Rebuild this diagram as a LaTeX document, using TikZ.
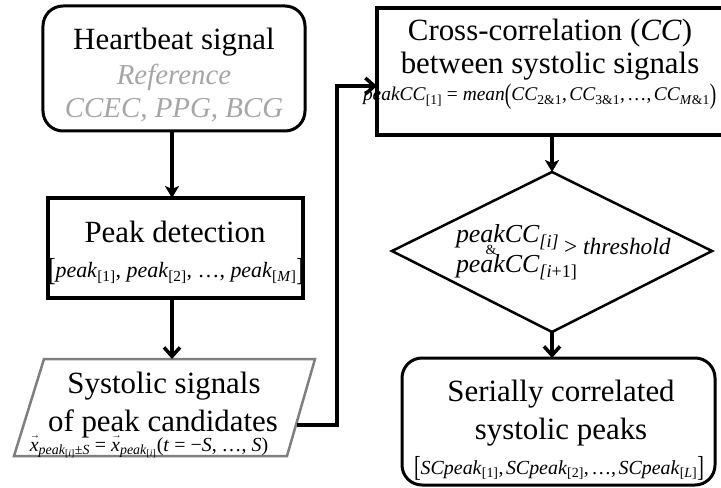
\documentclass[tikz,border=0pt]{standalone}
\usepackage{fontspec}
\usepackage{graphicx}
\setmainfont{Liberation Serif}
\usetikzlibrary{arrows.meta}
\definecolor{lgray}{HTML}{A6A6A6}
\definecolor{mgray}{HTML}{7F7F7F}
\newcommand\ix[1]{\textsubscript{[#1]}}
\newcommand\vx{\makebox[0pt][l]{\raisebox{0.62em}{\hspace{0.02em}\scalebox{0.5}{→}}}\textit{x}}
\newcommand\tallb[1]{\raisebox{-0.12em}{\scalebox{1}[1.45]{#1}}}
\newcommand\cs{,\hspace{0.12em}}
\begin{document}
\begin{tikzpicture}[x=1bp,y=-1bp,
  every node/.style={inner sep=0pt, outer sep=0pt},
  maintext/.style={font=\fontsize{31}{33}\selectfont, anchor=base},
  graytext/.style={font=\fontsize{29}{31}\selectfont\itshape, text=lgray, anchor=base},
  formtext/.style={font=\fontsize{22}{24}\selectfont, anchor=base},
  arr/.style={line width=3.5bp, -{Straight Barb[length=9bp,width=16bp,line width=3.5bp]}},
  farr/.style={line width=3.5bp, -{Stealth[length=12bp,width=14bp,inset=3bp]}},
  framebox/.style={draw, line width=3bp}]
\useasboundingbox (0,0) rectangle (721,488);

% Heartbeat signal
\node[framebox, rounded corners=20bp, minimum width=262bp, minimum height=125bp] (hb) at (174,68.5) {};
\node[maintext] (hb1) at (174,50) {Heartbeat signal};
\node[graytext] (hb2) at (174,85) {Reference};
\node[graytext] (hb3) at (174,118) {CCEC, PPG, BCG};

% Peak detection
\node[framebox, line width=3.5bp, minimum width=255bp, minimum height=100bp] (pd) at (175.5,248) {};
\node[maintext] (pd1) at (175,243) {Peak detection};
\node[formtext] (pd2) at (176,278) {\tallb{[}\textit{peak}\ix{1}, \textit{peak}\ix{2}, …, \textit{peak}\textsubscript{[\textit{M}]}\tallb{]}};

% Systolic signals (parallelogram)
\coordinate (pTL) at (44,359);
\coordinate (pTR) at (315,359);
\coordinate (pBR) at (287,456);
\coordinate (pBL) at (14,456);
\draw[mgray, line width=2.5bp, line join=miter] (pTL) -- (pTR) -- (pBR) -- (pBL) -- cycle;
\node[maintext] (ss1) at (164,393) {Systolic signals};
\node[maintext] (ss2) at (163,431) {of peak candidates};
\node[font=\fontsize{20}{22}\selectfont, anchor=base] (ss3) at (149,451) {\vx\textsubscript{\textit{peak}\textsubscript{[\textit{i}]}±\textit{S}} = \vx\textsubscript{\textit{peak}\textsubscript{[\textit{i}]}}(\textit{t} = −\textit{S}, …, \textit{S})};

% Cross-correlation
\node[framebox, line width=3.5bp, minimum width=353bp, minimum height=127bp] (cc) at (553.5,71.5) {};
\node[maintext] (cc1) at (550,41) {Cross-correlation (\textit{CC})};
\node[maintext] (cc2) at (550,74) {between systolic signals};
\node[font=\fontsize{19.5}{22}\selectfont, anchor=base west] (cc3) at (363,101) {\textit{peakCC}\ix{1} = \textit{mean}\tallb{(}\textit{CC}\textsubscript{2\&1}\cs\textit{CC}\textsubscript{3\&1}\cs…\cs\textit{CC}\textsubscript{\textit{M}\&1}\tallb{)}};

% Diamond
\coordinate (dT) at (552,172);
\coordinate (dR) at (712,251);
\coordinate (dB) at (552,332);
\coordinate (dL) at (392,251);
\draw[line width=2.5bp, line join=miter] (dT) -- (dR) -- (dB) -- (dL) -- cycle;
\node[font=\fontsize{26}{28}\selectfont\itshape, anchor=base west] (d1) at (456,243) {peakCC\ix{\textit{i}}};
\node[font=\fontsize{14}{15}\selectfont, anchor=base] (d2) at (491,255) {\&};
\node[font=\fontsize{26}{28}\selectfont\itshape, anchor=base west] (d3) at (456,273) {peakCC\textsubscript{[\textit{i}\upshape+1]}};
\node[font=\fontsize{23.5}{26}\selectfont, anchor=base west] (d4) at (564,255) {> \textit{threshold}};

% Final box
\node[framebox, rounded corners=20bp, minimum width=313bp, minimum height=127bp] (fb) at (558.5,421.5) {};
\node[maintext] (fb1) at (561,401) {Serially correlated};
\node[maintext] (fb2) at (561,439) {systolic peaks};
\node[font=\fontsize{20}{22}\selectfont, anchor=base] (fb3) at (559,474) {\tallb{[}\textit{SCpeak}\ix{1}\cs\textit{SCpeak}\ix{2}\cs…\cs\textit{SCpeak}\textsubscript{[\textit{L}]}\tallb{]}};

% Connectors
\coordinate (colx) at (172,0);
\coordinate (ssin) at (172,359);
\coordinate (ssout) at (297,425);
\coordinate (bend) at (337,86);
\draw[farr] (hb.south -| colx) -- (pd.north -| colx);
\draw[arr] (pd.south -| colx) -- (ssin);
\draw[arr, line join=miter] (ssout) -| (bend) -- (bend -| cc.west);
\draw[farr] (cc.south -| dT) -- (dT);
\draw[arr] (dB) -- (fb.north -| dB);
\end{tikzpicture}
\end{document}
